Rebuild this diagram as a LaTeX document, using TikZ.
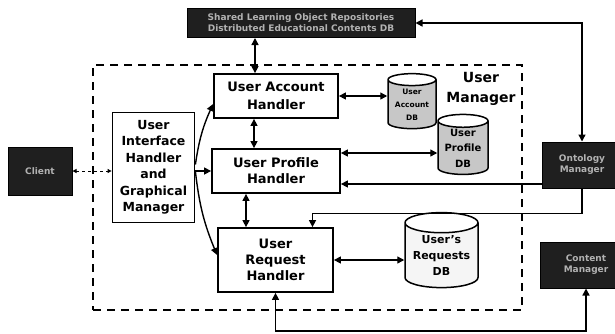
\documentclass[tikz,border=0pt]{standalone}
\usepackage{fontspec}
\setmainfont{DejaVu Sans}
\usetikzlibrary{arrows.meta,shapes.geometric,calc}
\begin{document}
\begin{tikzpicture}[x=1pt,y=-1pt,
  tip/.tip={Triangle[length=7pt,width=7pt]},
  smalltip/.tip={Triangle[length=4pt,width=4pt]},
  box/.style={draw, line width=1.8pt, fill=white, inner sep=0pt, align=center,
    font=\bfseries\fontsize{13}{18}\selectfont},
  dark/.style={draw=black, fill=black!88, line width=1pt, inner sep=0pt, align=center,
    text=gray!60, font=\bfseries\fontsize{9}{11}\selectfont},
  db/.style={cylinder, shape border rotate=90, draw, line width=1.5pt, aspect=0.35,
    cylinder uses custom fill, cylinder end fill=white, inner sep=0pt, align=center},
  frame/.style={draw, line width=2.2pt, dash pattern=on 8pt off 6pt},
  link/.style={line width=1.4pt, tip-tip},
  arr/.style={line width=1.4pt, -tip},
  dlink/.style={line width=1pt, dash pattern=on 3pt off 3pt, smalltip-smalltip},
]
\useasboundingbox (0,0) rectangle (615,333);

% the User Manager container
\node[frame, minimum width=429, minimum height=245] (um) at (307.5,187.5) {};
\node[font=\bfseries\fontsize{14}{20}\selectfont, align=center] (uml) at (481,89) {User\\Manager};

% external components
\node[dark, minimum width=228, minimum height=29] (rep) at (301,23)
  {Shared Learning Object Repositories\\Distributed Educational Contents DB};
\node[dark, minimum width=64, minimum height=48] (cli) at (40,171) {Client};
\node[dark, minimum width=80, minimum height=46] (ont) at (582,165) {Ontology\\Manager};
\node[dark, minimum width=92, minimum height=46] (cnt) at (586,265) {Content\\Manager};

% handlers
\node[box, minimum width=82, minimum height=110, font=\bfseries\fontsize{12.5}{16.5}\selectfont]
  (uih) at (153.5,167.5) {User\\Interface\\Handler\\and\\Graphical\\Manager};
\node[box, minimum width=124, minimum height=44] (uah) at (276,96) {User Account\\Handler};
\node[box, minimum width=128, minimum height=44, font=\bfseries\fontsize{13}{16}\selectfont]
  (uph) at (276,171) {User Profile\\Handler};
\node[box, minimum width=115, minimum height=64, font=\bfseries\fontsize{13}{16}\selectfont]
  (urh) at (275.5,260) {User\\Request\\Handler};

% databases
\node[db, minimum width=48, minimum height=55, cylinder body fill=black!22,
  font=\bfseries\fontsize{7.5}{13}\selectfont] (uadb) at (412,104.5) {User\\Account\\DB};
\node[db, minimum width=50, minimum height=60, cylinder body fill=black!22,
  font=\bfseries\fontsize{10}{15.5}\selectfont] (updb) at (463,148) {User\\Profile\\DB};
\node[db, minimum width=73, minimum height=75, cylinder body fill=black!4,
  font=\bfseries\fontsize{11}{16}\selectfont] (urdb) at (441.5,255.5) {User's\\Requests\\DB};

% connectors
\draw[link] (rep.east) -| (ont.north);
\draw[link] ([xshift=-46pt]rep.south) -- ([xshift=-21pt]uah.north);
\draw[dlink] (cli.east) -- (uih.west |- cli.east);
\draw[arr] ([yshift=3pt]uih.east) to[bend left=8] ([yshift=-8pt]uah.west);
\draw[arr] (uih.east |- uph.west) -- (uph.west);
\draw[arr] ([yshift=-4pt]uih.east) to[bend right=8] ([yshift=5pt]urh.west);
\draw[link] (uah.east) -- (uadb.west |- uah.east);
\draw[link] ([xshift=-22pt]uah.south) -- ([xshift=-22pt]uph.north);
\path ([yshift=18pt]uph.east) coordinate (p1);
\draw[link] (p1) -- (p1 -| updb.west);
\path ([yshift=-19pt]ont.west) coordinate (p2);
\draw[arr] (p2) -- (p2 -| uph.east);
\draw[arr] (ont.south) -- ++(0,25) -| ([xshift=37pt]urh.north);
\draw[link] ([xshift=-30pt]uph.south) -- ([xshift=-29.5pt]urh.north);
\draw[link] (urh.east) -- (urdb.west |- urh.east);
\draw[link] (urh.south) -- ++(0,38) -| (cnt.south);
\end{tikzpicture}
\end{document}
